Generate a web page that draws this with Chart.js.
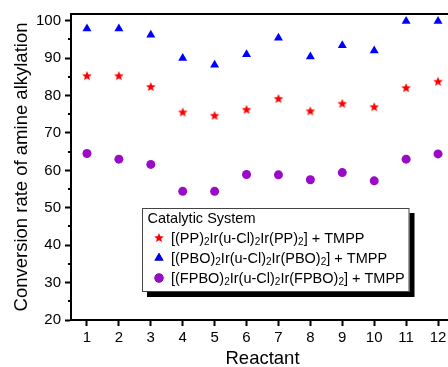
<!DOCTYPE html>
<html>
<head>
<meta charset="utf-8">
<script src="https://cdn.jsdelivr.net/npm/chart.js@4/dist/chart.umd.min.js"></script>
<style>
  html, body { margin: 0; padding: 0; background: #fff; overflow: hidden; }
  canvas { display: block; }
</style>
</head>
<body>
<canvas id="chart" width="460" height="375"></canvas>
<script>
const reactants = [1, 2, 3, 4, 5, 6, 7, 8, 9, 10, 11, 12];
const ppValues = [85.2, 85.2, 82.3, 75.5, 74.6, 76.2, 79.1, 75.8, 77.8, 76.9, 82.0, 83.7];
const pboValues = [97.9, 97.9, 96.2, 90.0, 88.2, 91.0, 95.4, 90.4, 93.4, 92.0, 99.9, 99.9];
const fpboValues = [64.5, 63.0, 61.6, 54.4, 54.4, 58.9, 58.8, 57.5, 59.4, 57.2, 63.0, 64.4];
const yTicks = [20, 30, 40, 50, 60, 70, 80, 90, 100];
const yMinorTicks = [25, 35, 45, 55, 65, 75, 85, 95];
const seriesLabels = [
    '[(PP)_2Ir(u-Cl)_2Ir(PP)_2] + TMPP',
    '[(PBO)_2Ir(u-Cl)_2Ir(PBO)_2] + TMPP',
    '[(FPBO)_2Ir(u-Cl)_2Ir(FPBO)_2] + TMPP'
];
const legendTitle = 'Catalytic System';

const FONT = 'Arial, "Liberation Sans", sans-serif';
Chart.defaults.font.family = FONT;
Chart.defaults.color = '#000';

// filled five-point star, used as an image point style
function starImage(color, r) {
    const size = Math.ceil(r * 2) + 2;
    const c = document.createElement('canvas');
    c.width = c.height = size;
    const g = c.getContext('2d');
    g.fillStyle = color;
    g.beginPath();
    for (let i = 0; i < 10; i++) {
        const rad = i % 2 ? r * 0.45 : r;
        const a = -Math.PI / 2 + i * Math.PI / 5;
        g.lineTo(size / 2 + rad * Math.cos(a), size / 2 + rad * Math.sin(a));
    }
    g.closePath();
    g.fill();
    return c;
}

const toPoints = values => values.map((v, i) => ({ x: reactants[i], y: v }));

// frame top/right edge and minor y ticks
const axisExtras = {
    id: 'axisExtras',
    afterDraw(chart) {
        const { ctx, chartArea: a, scales: { y } } = chart;
        ctx.save();
        ctx.strokeStyle = '#000';
        ctx.lineWidth = 2;
        ctx.beginPath();
        ctx.moveTo(a.left - 1, a.top);
        ctx.lineTo(a.right + 1, a.top);
        ctx.moveTo(a.right, a.top);
        ctx.lineTo(a.right, a.bottom);
        yMinorTicks.forEach(v => {
            const py = Math.round(y.getPixelForValue(v));
            ctx.moveTo(a.left - 3, py);
            ctx.lineTo(a.left, py);
        });
        ctx.stroke();
        ctx.restore();
    }
};

// boxed legend with shadow and subscripted labels
const boxLegend = {
    id: 'boxLegend',
    afterDraw(chart) {
        const ctx = chart.ctx;
        const box = { left: 142, top: 208, right: 409.5, bottom: 292 };
        ctx.save();
        ctx.fillStyle = '#000';
        ctx.fillRect(box.left + 5, box.top + 5, box.right - box.left, box.bottom - box.top);
        ctx.fillStyle = '#fff';
        ctx.fillRect(box.left, box.top, box.right - box.left, box.bottom - box.top);
        ctx.strokeStyle = '#444';
        ctx.lineWidth = 1;
        ctx.strokeRect(box.left + 0.5, box.top + 0.5, box.right - box.left - 1, box.bottom - box.top - 1);

        ctx.fillStyle = '#000';
        ctx.textBaseline = 'alphabetic';
        ctx.font = '14.5px ' + FONT;
        ctx.fillText(legendTitle, 147.5, 223);

        chart.data.datasets.forEach((ds, i) => {
            const cy = 238 + i * 20;
            Chart.helpers.drawPoint(ctx, {
                pointStyle: ds.pointStyle,
                radius: ds.pointRadius,
                rotation: 0,
                borderWidth: 0
            }, 159, cy);
            ctx.fillStyle = ds.backgroundColor;
            ctx.fill();

            let x = 171;
            ctx.fillStyle = '#000';
            seriesLabels[i].split(/_(\d)/).forEach((part, k) => {
                const sub = k % 2 === 1;
                ctx.font = (sub ? '10px ' : '14.5px ') + FONT;
                ctx.fillText(part, x, cy + (sub ? 7 : 4.5));
                x += ctx.measureText(part).width;
            });
        });
        ctx.restore();
    }
};

const ctx = document.getElementById('chart').getContext('2d');
new Chart(ctx, {
    type: 'scatter',
    data: {
        datasets: [{
            label: seriesLabels[0],
            data: toPoints(ppValues),
            pointStyle: starImage('#ff0000', 5),
            pointRadius: 5,
            backgroundColor: '#ff0000',
            borderColor: '#ff0000'
        }, {
            label: seriesLabels[1],
            data: toPoints(pboValues),
            pointStyle: 'triangle',
            pointRadius: 5.2,
            borderWidth: 0,
            backgroundColor: '#0000ff',
            borderColor: '#0000ff'
        }, {
            label: seriesLabels[2],
            data: toPoints(fpboValues),
            pointStyle: 'circle',
            pointRadius: 4.5,
            borderWidth: 0,
            backgroundColor: '#9a0bc8',
            borderColor: '#9a0bc8'
        }]
    },
    options: {
        responsive: false,
        animation: false,
        layout: { padding: { top: 14, right: 3, left: 0, bottom: 0 } },
        plugins: {
            legend: { display: false },
            tooltip: { enabled: false }
        },
        scales: {
            x: {
                type: 'linear',
                min: 0.5,
                max: 12.5,
                afterBuildTicks: s => { s.ticks = reactants.map(v => ({ value: v })); },
                afterFit: s => { s.height = 55; },
                grid: { drawOnChartArea: false, tickLength: 6, tickWidth: 2, tickColor: '#000' },
                border: { color: '#000', width: 2 },
                ticks: { color: '#000', font: { size: 15 }, padding: 3, maxRotation: 0 },
                title: {
                    display: true,
                    text: 'Reactant',
                    color: '#000',
                    font: { size: 18.5 },
                    padding: { top: 0, bottom: 5 }
                }
            },
            y: {
                min: 20,
                max: 101.8,
                afterBuildTicks: s => { s.ticks = yTicks.map(v => ({ value: v })); },
                afterFit: s => { s.width = 71; },
                grid: { drawOnChartArea: false, tickLength: 6, tickWidth: 2, tickColor: '#000' },
                border: { color: '#000', width: 2 },
                ticks: { color: '#000', font: { size: 15 }, padding: 4 },
                title: {
                    display: true,
                    text: 'Conversion rate of amine alkylation',
                    color: '#000',
                    font: { size: 18.5 },
                    padding: { top: 11, bottom: 0 }
                }
            }
        }
    },
    plugins: [axisExtras, boxLegend]
});
</script>
</body>
</html>
